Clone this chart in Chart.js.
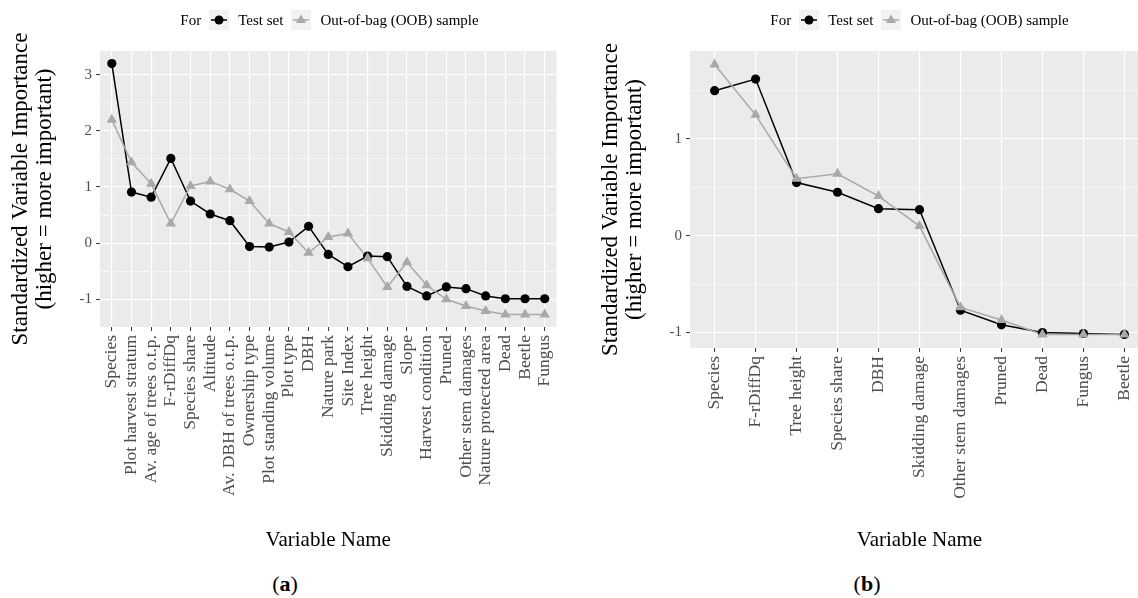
<!DOCTYPE html>
<html>
<head>
<meta charset="utf-8">
<style>
html, body { margin: 0; padding: 0; background: #fff; overflow: hidden; }
#page { position: relative; width: 1138px; height: 598px; overflow: hidden; font-family: 'Liberation Serif', 'Times New Roman', serif; }
.panel { position: absolute; top: 0; width: 570px; height: 560px; }
.legend { position: absolute; top: 10px; height: 20px; display: flex; align-items: center; justify-content: center; font-size: 15px; color: #000; white-space: nowrap; }
.key { display: block; width: 20px; height: 20px; margin: 0 9px 0 8px; }
.tag { position: absolute; top: 570px; width: 60px; text-align: center; font-size: 22px; line-height: 28px; color: #000; }
</style>
</head>
<body>
<div id="page">
  <canvas id="chartA" class="panel" style="left:0px" width="570" height="560"></canvas>
  <canvas id="chartB" class="panel" style="left:590px" width="570" height="560"></canvas>

  <div class="legend" style="left:100px; width:459px">
    <span>For</span>
    <svg class="key" viewBox="0 0 20 20"><rect width="20" height="20" fill="#f2f2f2"/><line x1="2" y1="10" x2="18" y2="10" stroke="#000" stroke-width="1.5"/><circle cx="10" cy="10" r="4.5" fill="#000"/></svg>
    <span>Test set</span>
    <svg class="key" viewBox="0 0 20 20"><rect width="20" height="20" fill="#f2f2f2"/><line x1="2" y1="10" x2="18" y2="10" stroke="#a9a9a9" stroke-width="1.5"/><polygon points="10,4.5 15,13 5,13" fill="#a9a9a9"/></svg>
    <span>Out-of-bag (OOB) sample</span>
  </div>
  <div class="legend" style="left:690px; width:459px">
    <span>For</span>
    <svg class="key" viewBox="0 0 20 20"><rect width="20" height="20" fill="#f2f2f2"/><line x1="2" y1="10" x2="18" y2="10" stroke="#000" stroke-width="1.5"/><circle cx="10" cy="10" r="4.5" fill="#000"/></svg>
    <span>Test set</span>
    <svg class="key" viewBox="0 0 20 20"><rect width="20" height="20" fill="#f2f2f2"/><line x1="2" y1="10" x2="18" y2="10" stroke="#a9a9a9" stroke-width="1.5"/><polygon points="10,4.5 15,13 5,13" fill="#a9a9a9"/></svg>
    <span>Out-of-bag (OOB) sample</span>
  </div>

  <div class="tag" style="left:255px">(<b>a</b>)</div>
  <div class="tag" style="left:837px">(<b>b</b>)</div>
</div>

<script src="https://cdn.jsdelivr.net/npm/chart.js"></script>

<script>
// panel (a)
const namesA = ['Species', 'Plot harvest stratum', 'Av. age of trees o.t.p.', 'F-rDiffDq', 'Species share',
  'Altitude', 'Av. DBH of trees o.t.p.', 'Ownership type', 'Plot standing volume', 'Plot type', 'DBH',
  'Nature park', 'Site Index', 'Tree height', 'Skidding damage', 'Slope', 'Harvest condition', 'Pruned',
  'Other stem damages', 'Nature protected area', 'Dead', 'Beetle', 'Fungus'];
const testA = [3.20, 0.91, 0.82, 1.51, 0.75, 0.52, 0.40, -0.06, -0.07, 0.02, 0.30, -0.20, -0.42, -0.23,
  -0.24, -0.77, -0.94, -0.78, -0.81, -0.94, -0.99, -0.99, -0.99];
const oobA = [2.20, 1.44, 1.06, 0.35, 1.02, 1.10, 0.96, 0.75, 0.35, 0.20, -0.17, 0.11, 0.17, -0.27,
  -0.78, -0.34, -0.75, -1.00, -1.12, -1.21, -1.27, -1.27, -1.27];
const yBreaksA = [-1, -0.5, 0, 0.5, 1, 1.5, 2, 2.5, 3];

// panel (b)
const namesB = ['Species', 'F-rDiffDq', 'Tree height', 'Species share', 'DBH', 'Skidding damage',
  'Other stem damages', 'Pruned', 'Dead', 'Fungus', 'Beetle'];
const testB = [1.50, 1.62, 0.55, 0.45, 0.28, 0.27, -0.77, -0.92, -1.00, -1.01, -1.02];
const oobB = [1.77, 1.25, 0.59, 0.64, 0.41, 0.10, -0.74, -0.87, -1.02, -1.02, -1.02];
const yBreaksB = [-1, -0.5, 0, 0.5, 1, 1.5];

const FONT = "'Liberation Serif', 'Times New Roman', serif";
const isMajor = c => c.tick && Number.isInteger(c.tick.value);

const panelBg = {
  id: 'panelBg',
  beforeDraw(chart) {
    const a = chart.chartArea;
    chart.ctx.save();
    chart.ctx.fillStyle = '#ebebeb';
    chart.ctx.fillRect(a.left, a.top, a.right - a.left, a.bottom - a.top);
    chart.ctx.restore();
  }
};

function makeChart(id, names, test, oob, yMin, yMax, yBreaks, xHeight) {
  const pts = arr => arr.map((v, i) => ({x: i, y: v}));
  return new Chart(document.getElementById(id), {
    type: 'line',
    data: {
      datasets: [
        {label: 'oob points', data: pts(oob), showLine: false, pointStyle: 'triangle', pointRadius: 6,
         pointBorderWidth: 0, backgroundColor: '#a9a9a9', borderColor: '#a9a9a9', order: 0},
        {label: 'test points', data: pts(test), showLine: false, pointStyle: 'circle', pointRadius: 4.6,
         pointBorderWidth: 0, backgroundColor: '#000', borderColor: '#000', order: 1},
        {label: 'oob line', data: pts(oob), borderColor: '#a9a9a9', borderWidth: 1.5, pointRadius: 0, order: 2},
        {label: 'test line', data: pts(test), borderColor: '#000', borderWidth: 1.5, pointRadius: 0, order: 3}
      ]
    },
    options: {
      responsive: false,
      animation: false,
      devicePixelRatio: 1,
      layout: {padding: {left: 0, right: 11, top: 51, bottom: 0}},
      plugins: {legend: {display: false}, tooltip: {enabled: false}},
      scales: {
        x: {
          type: 'linear',
          min: -0.6,
          max: names.length - 0.4,
          afterBuildTicks: s => { s.ticks = names.map((_, i) => ({value: i})); },
          afterFit: s => { s.height = xHeight; },
          ticks: {autoSkip: false, minRotation: 90, maxRotation: 90, color: '#4d4d4d',
                  font: {family: FONT, size: 17.5}, padding: 4, callback: v => names[v]},
          grid: {color: '#fff', lineWidth: 1.1, tickColor: '#333', tickLength: 4, tickWidth: 1},
          border: {display: false},
          title: {display: true, text: 'Variable Name', color: '#000',
                  font: {family: FONT, size: 21}, padding: {top: 0, bottom: 7}}
        },
        y: {
          min: yMin,
          max: yMax,
          afterBuildTicks: s => { s.ticks = yBreaks.map(v => ({value: v})); },
          afterFit: s => { s.width = 100; },
          ticks: {color: '#4d4d4d', font: {family: FONT, size: 15}, padding: 4,
                  callback: v => Number.isInteger(v) ? String(v) : ''},
          grid: {color: '#fff', lineWidth: c => isMajor(c) ? 1.1 : 0.55,
                 tickColor: c => isMajor(c) ? '#333' : 'rgba(0,0,0,0)', tickLength: 4, tickWidth: 1},
          border: {display: false},
          title: {display: true, text: ['Standardized Variable Importance', '(higher = more important)'],
                  color: '#000', font: {family: FONT, size: 23, lineHeight: 1.05}, padding: {top: 9, bottom: 0}}
        }
      }
    },
    plugins: [panelBg]
  });
}

makeChart('chartA', namesA, testA, oobA, -1.4935, 3.4235, yBreaksA, 233);
makeChart('chartB', namesB, testB, oobB, -1.16, 1.91, yBreaksB, 212);
</script>
</body>
</html>
